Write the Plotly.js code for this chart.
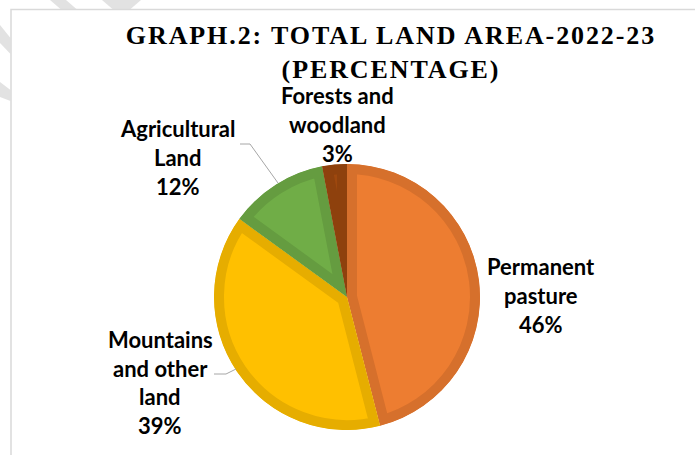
<!DOCTYPE html>
<html>
<head>
<meta charset="utf-8">
<script src="https://cdn.plot.ly/plotly-3.0.1.min.js"></script>
<style>
  html, body { margin: 0; padding: 0; background: #fff; }
  #chart { width: 695px; height: 455px; }
  .gtitle { letter-spacing: 1.9px; }
</style>
</head>
<body>
<div id="chart"></div>
<script>
// ---- data ----
const categories = ['Permanent pasture', 'Mountains and other land', 'Agricultural Land', 'Forests and woodland'];
const values = [46, 39, 12, 3];
const labelText = ['Permanent<br>pasture', 'Mountains<br>and other<br>land', 'Agricultural<br>Land', 'Forests and<br>woodland'];
const titleText = 'GRAPH.2: TOTAL LAND AREA-2022-23<br>(PERCENTAGE)';

// ---- styles ----
const fillColors = ['#ED7D31', '#FFC000', '#70AD47', '#9E480E'];
const borderColors = ['#D6702C', '#E6AD00', '#659C40', '#8E410D'];

const W = 695, H = 455;
const px = x => x / W;
const py = y => 1 - y / H;

// label placement: centre x, first baseline y, line step (pixels)
const labelPos = [
  { cx: 541, base: 274, step: 29 },
  { cx: 160, base: 347, step: 28.5 },
  { cx: 178, base: 135.5, step: 29 },
  { cx: 337, base: 102.7, step: 29 }
];

const total = values.reduce((a, b) => a + b, 0);
const annotations = [];
categories.forEach((c, i) => {
  const lines = labelText[i].split('<br>');
  lines.push(Math.round(values[i] / total * 100) + '%');
  const p = labelPos[i];
  lines.forEach((t, k) => {
    annotations.push({
      text: t, showarrow: false, xref: 'paper', yref: 'paper',
      x: px(p.cx), y: py(p.base + k * p.step - 7.5),
      xanchor: 'center', yanchor: 'middle',
      font: { family: 'Lato, "Open Sans", sans-serif', size: 22, weight: 'bold', color: '#000' }
    });
  });
});

function pathFromPts(pts, close) {
  return pts.map((p, i) => (i ? 'L' : 'M') + px(p[0]) + ',' + py(p[1])).join(' ') + (close ? ' Z' : '');
}

const shapes = [
  // watermark fragments
  { type: 'path', path: pathFromPts([[50,0],[66,0],[77,9.5],[61,9.5]], true), fillcolor: '#e2e2e2', line: { width: 0 }, layer: 'below', xref: 'paper', yref: 'paper' },
  { type: 'path', path: pathFromPts([[102,0],[141,0],[130,9.5],[113,9.5]], true), fillcolor: '#e2e2e2', line: { width: 0 }, layer: 'below', xref: 'paper', yref: 'paper' },
  { type: 'path', path: pathFromPts([[0,25],[10.5,38],[10.5,54],[0,43]], true), fillcolor: '#e2e2e2', line: { width: 0 }, layer: 'below', xref: 'paper', yref: 'paper' },
  { type: 'path', path: pathFromPts([[0,82],[10.5,90],[10.5,101],[0,97]], true), fillcolor: '#e2e2e2', line: { width: 0 }, layer: 'below', xref: 'paper', yref: 'paper' },
  // frame
  { type: 'rect', xref: 'paper', yref: 'paper', x0: px(11), x1: 1.05, y0: -0.05, y1: py(9.5), line: { color: '#d9d9d9', width: 1.5 }, layer: 'below' },
  // leader lines
  { type: 'path', path: pathFromPts([[240,144],[250,144],[278,183]]), line: { color: '#a6a6a6', width: 1 }, xref: 'paper', yref: 'paper' },
  { type: 'path', path: pathFromPts([[214,374],[226,374],[236,369]]), line: { color: '#a6a6a6', width: 1 }, xref: 'paper', yref: 'paper' }
];

const cx = 347, cy = 297, R = 133;
const trace = {
  type: 'pie',
  labels: categories,
  values: values,
  sort: false,
  direction: 'clockwise',
  rotation: 0,
  textinfo: 'none',
  hoverinfo: 'label+percent',
  marker: { colors: fillColors, line: { color: borderColors, width: 10 } },
  domain: { x: [px(cx - R), px(cx + R)], y: [py(cy + R), py(cy - R)] }
};

const layout = {
  width: W, height: H,
  margin: { l: 0, r: 0, t: 0, b: 0 },
  paper_bgcolor: '#fff',
  showlegend: false,
  title: {
    text: titleText,
    font: { family: '"Times New Roman", "Liberation Serif", serif', size: 26, weight: 'bold', color: '#000' },
    x: px(391), xref: 'paper', xanchor: 'center',
    y: py(44), yref: 'paper', yanchor: 'top'
  },
  annotations: annotations,
  shapes: shapes
};

const gd = document.getElementById('chart');
Plotly.newPlot(gd, [trace], layout, { displayModeBar: false, staticPlot: true }).then(() => {
  // draw slice borders on the inside of each slice, as in the reference
  const ns = 'http://www.w3.org/2000/svg';
  const svg = gd.querySelector('svg.main-svg');
  let defs = svg.querySelector('defs');
  if (!defs) { defs = document.createElementNS(ns, 'defs'); svg.insertBefore(defs, svg.firstChild); }
  gd.querySelectorAll('g.slice path.surface').forEach((p, i) => {
    const cp = document.createElementNS(ns, 'clipPath');
    cp.setAttribute('id', 'sliceclip' + i);
    const cpp = document.createElementNS(ns, 'path');
    cpp.setAttribute('d', p.getAttribute('d'));
    cp.appendChild(cpp);
    defs.appendChild(cp);
    p.setAttribute('clip-path', 'url(#sliceclip' + i + ')');
    p.style.strokeWidth = '20px';
  });
});
</script>
</body>
</html>
